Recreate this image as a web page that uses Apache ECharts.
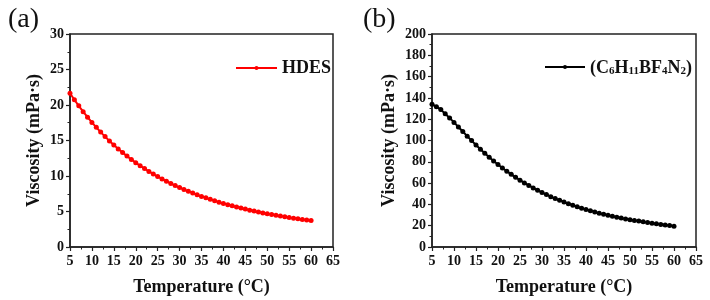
<!DOCTYPE html>
<html>
<head>
<meta charset="utf-8">
<script src="https://cdn.jsdelivr.net/npm/echarts@6/dist/echarts.min.js"></script>
<style>
html,body{margin:0;padding:0;background:#fff;}
#main{width:710px;height:300px;}
</style>
</head>
<body>
<div id="main"></div>
<script>
// temperatures (°C)
var temps = [5,6,7,8,9,10,11,12,13,14,15,16,17,18,19,20,21,22,23,24,25,26,27,28,29,30,
	31,32,33,34,35,36,37,38,39,40,41,42,43,44,45,46,47,48,49,50,51,52,53,54,55,56,57,58,59,60];
// viscosity of HDES (mPa·s)
var hdes = [21.65,20.74,19.88,19.06,18.29,17.55,16.85,16.18,15.55,14.94,14.37,13.82,13.30,12.80,12.33,11.88,
	11.45,11.04,10.65,10.28,9.92,9.58,9.26,8.95,8.65,8.37,8.10,7.84,7.59,7.36,7.13,6.92,6.71,6.51,6.32,6.14,
	5.96,5.80,5.64,5.48,5.34,5.19,5.06,4.93,4.80,4.68,4.57,4.46,4.35,4.25,4.15,4.06,3.97,3.88,3.80,3.72];
// viscosity of (C6H11BF4N2) (mPa·s)
var il = [134.0,131.8,129.0,125.2,121.2,117.0,112.7,108.4,104.1,99.9,95.8,91.8,88.0,84.3,80.8,77.4,
	74.2,71.1,68.2,65.4,62.7,60.2,57.8,55.5,53.3,51.2,49.2,47.3,45.5,43.8,42.2,40.7,39.2,37.8,36.5,35.2,
	34.0,32.9,31.8,30.8,29.8,28.9,28.0,27.2,26.4,25.7,25.0,24.3,23.6,23.0,22.4,21.8,21.2,20.6,20.1,19.6];

function pairs(ys) {
	return temps.map(function(t, i) { return [t, ys[i]]; });
}

var fontSerif = '"Liberation Serif", "Times New Roman", serif';
var axisColor = '#222';

function xAxisOf(gi) {
	return {
		type: 'value', gridIndex: gi, min: 5, max: 65, interval: 5,
		name: 'Temperature (°C)', nameLocation: 'middle', nameGap: 31,
		nameTextStyle: {fontFamily: fontSerif, fontWeight: 'bold', fontSize: 18, color: '#111'},
		axisLine: {show: true, onZero: false, lineStyle: {color: axisColor, width: 1.5}},
		axisTick: {show: true, inside: false, length: 4, lineStyle: {color: axisColor, width: 1.2}},
		minorTick: {show: true, splitNumber: 2, length: 2.5, lineStyle: {color: axisColor, width: 1}},
		axisLabel: {fontFamily: fontSerif, fontWeight: 'bold', fontSize: 14, color: '#111', margin: 7},
		splitLine: {show: false}
	};
}
function yAxisOf(gi, max, step, gap) {
	return {
		type: 'value', gridIndex: gi, min: 0, max: max, interval: step,
		name: 'Viscosity (mPa·s)', nameLocation: 'middle', nameGap: gap, nameRotate: 90,
		nameTextStyle: {fontFamily: fontSerif, fontWeight: 'bold', fontSize: 18, color: '#111'},
		axisLine: {show: true, onZero: false, lineStyle: {color: axisColor, width: 1.5}},
		axisTick: {show: true, inside: false, length: 4, lineStyle: {color: axisColor, width: 1.2}},
		minorTick: {show: true, splitNumber: 2, length: 2.5, lineStyle: {color: axisColor, width: 1}},
		axisLabel: {fontFamily: fontSerif, fontWeight: 'bold', fontSize: 14, color: '#111', margin: 6},
		splitLine: {show: false}
	};
}

var chart = echarts.init(document.getElementById('main'), null, {renderer: 'canvas'});
var option = {
	animation: false,
	backgroundColor: '#fff',
	title: [
		{text: '(a)', left: 3, top: 1, textStyle: {fontFamily: fontSerif, fontWeight: 'normal', fontSize: 28, color: '#111'}},
		{text: '(b)', left: 358, top: 1, textStyle: {fontFamily: fontSerif, fontWeight: 'normal', fontSize: 28, color: '#111'}}
	],
	grid: [
		{left: 70, top: 34, width: 263, height: 213, outerBoundsMode: 'none', containLabel: false,
			show: true, borderColor: axisColor, borderWidth: 1.5, backgroundColor: 'transparent'},
		{left: 432, top: 34, width: 264, height: 213, outerBoundsMode: 'none', containLabel: false,
			show: true, borderColor: axisColor, borderWidth: 1.5, backgroundColor: 'transparent'}
	],
	legend: [
		{
			data: ['HDES'], left: 235, top: 59, padding: 0, itemWidth: 41, itemHeight: 5, itemGap: 5,
			textStyle: {fontFamily: fontSerif, fontWeight: 'bold', fontSize: 18, color: '#111'}
		},
		{
			data: ['(C6H11BF4N2)'], left: 544, top: 59, padding: 0, itemWidth: 40, itemHeight: 5, itemGap: 4,
			formatter: function() {
				return '{b|(C}{s|6}{b|H}{s|11}{b|BF}{s|4}{b|N}{s|2}{b|)}';
			},
			textStyle: {
				fontFamily: fontSerif, fontWeight: 'bold', fontSize: 18, color: '#111',
				rich: {
					b: {fontFamily: fontSerif, fontWeight: 'bold', fontSize: 18, color: '#111', lineHeight: 20, verticalAlign: 'bottom'},
					s: {fontFamily: fontSerif, fontWeight: 'bold', fontSize: 11, color: '#111', lineHeight: 14, verticalAlign: 'bottom'}
				}
			}
		}
	],
	xAxis: [xAxisOf(0), xAxisOf(1)],
	yAxis: [yAxisOf(0, 30, 5, 27), yAxisOf(1, 200, 20, 34)],
	series: [
		{
			name: 'HDES', type: 'line', xAxisIndex: 0, yAxisIndex: 0,
			data: pairs(hdes), symbol: 'circle', symbolSize: 5,
			lineStyle: {color: '#ff0000', width: 2},
			itemStyle: {color: '#ff0000'}
		},
		{
			name: '(C6H11BF4N2)', type: 'line', xAxisIndex: 1, yAxisIndex: 1,
			data: pairs(il), symbol: 'circle', symbolSize: 5,
			lineStyle: {color: '#000', width: 2},
			itemStyle: {color: '#000'}
		}
	]
};
chart.setOption(option);
</script>
</body>
</html>
